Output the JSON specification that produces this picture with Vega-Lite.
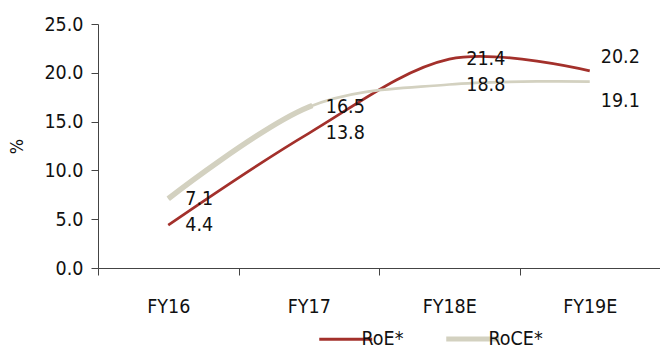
{
  "$schema": "https://vega.github.io/schema/vega-lite/v6.json",
  "width": 562,
  "height": 244,
  "autosize": {"type": "none"},
  "padding": {"left": 98, "top": 24, "right": 0, "bottom": 81},
  "background": "white",
  "data": {
    "values": [
      {"year": "FY16", "series": "RoE*", "value": 4.4},
      {"year": "FY17", "series": "RoE*", "value": 13.8},
      {"year": "FY18E", "series": "RoE*", "value": 21.4},
      {"year": "FY19E", "series": "RoE*", "value": 20.2},
      {"year": "FY16", "series": "RoCE*", "value": 7.1},
      {"year": "FY17", "series": "RoCE*", "value": 16.5},
      {"year": "FY18E", "series": "RoCE*", "value": 18.8},
      {"year": "FY19E", "series": "RoCE*", "value": 19.1}
    ]
  },
  "encoding": {
    "x": {
      "field": "year",
      "type": "nominal",
      "sort": ["FY16", "FY17", "FY18E", "FY19E"],
      "scale": {"type": "band", "paddingInner": 0, "paddingOuter": 0},
      "axis": {
        "title": null,
        "labelAngle": 0,
        "tickBand": "extent",
        "tickSize": 7,
        "labelPadding": 22,
        "labelFontSize": 19.5,
        "labelColor": "#111111",
        "domainColor": "#444444",
        "tickColor": "#444444",
        "grid": false
      }
    },
    "y": {
      "field": "value",
      "type": "quantitative",
      "scale": {"domain": [0, 25]},
      "axis": {
        "values": [0, 5, 10, 15, 20, 25],
        "format": ".1f",
        "grid": false,
        "domainColor": "#444444",
        "tickColor": "#444444",
        "tickSize": 7,
        "labelPadding": 8,
        "labelFontSize": 19.5,
        "labelColor": "#111111",
        "title": "%",
        "titleFontSize": 18,
        "titleFontWeight": "normal",
        "titleColor": "#111111",
        "titlePadding": 17
      }
    }
  },
  "layer": [
    {
      "mark": {"type": "line", "interpolate": "cardinal", "strokeWidth": 2.7},
      "encoding": {
        "color": {
          "field": "series",
          "type": "nominal",
          "sort": ["RoE*", "RoCE*"],
          "scale": {"domain": ["RoE*", "RoCE*"], "range": ["#A3302B", "#D3D1C0"]},
          "legend": {
            "orient": "none",
            "legendX": 238,
            "legendY": 305,
            "direction": "horizontal",
            "title": null,
            "symbolType": "stroke",
            "symbolSize": 2809,
            "symbolStrokeWidth": 3,
            "labelFontSize": 19.5,
            "labelColor": "#111111",
            "labelOffset": 6,
            "columnPadding": 32,
            "encode": {
              "symbols": {
                "update": {
                  "strokeWidth": {"signal": "datum.value === 'RoCE*' ? 5 : 3"}
                }
              }
            }
          }
        }
      }
    },
    {
      "transform": [{"filter": "datum.series === 'RoCE*'"}],
      "mark": {
        "type": "line",
        "interpolate": "cardinal",
        "strokeWidth": 5.5,
        "color": "#D3D1C0",
        "strokeDash": [172, 3000]
      },
      "encoding": {}
    },
    {
      "transform": [{"filter": "datum.year !== 'FY19E'"}],
      "mark": {"type": "text", "align": "left", "baseline": "middle", "dx": 17, "fontSize": 19.5, "color": "#111111"},
      "encoding": {"text": {"field": "value", "type": "quantitative", "format": ".1f"}}
    },
    {
      "transform": [{"filter": "datum.year === 'FY19E' && datum.series === 'RoE*'"}],
      "mark": {"type": "text", "align": "left", "baseline": "middle", "dx": 11, "dy": -14, "fontSize": 19.5, "color": "#111111"},
      "encoding": {"text": {"field": "value", "type": "quantitative", "format": ".1f"}}
    },
    {
      "transform": [{"filter": "datum.year === 'FY19E' && datum.series === 'RoCE*'"}],
      "mark": {"type": "text", "align": "left", "baseline": "middle", "dx": 11, "dy": 19, "fontSize": 19.5, "color": "#111111"},
      "encoding": {"text": {"field": "value", "type": "quantitative", "format": ".1f"}}
    }
  ],
  "config": {
    "font": "Liberation Sans Narrow, DejaVu Sans Condensed, sans-serif",
    "view": {"stroke": null}
  }
}
